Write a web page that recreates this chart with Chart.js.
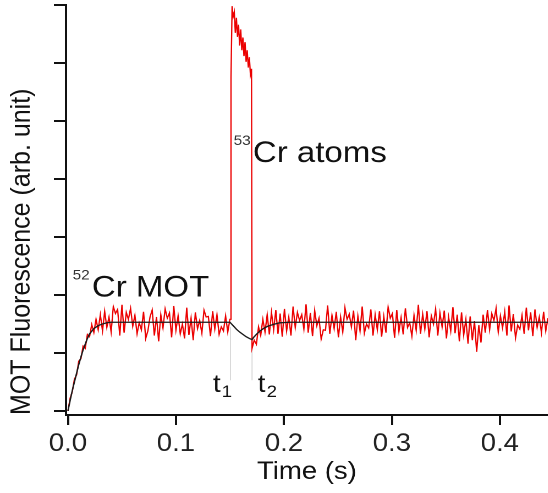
<!DOCTYPE html>
<html>
<head>
<meta charset="utf-8">
<script src="https://cdn.jsdelivr.net/npm/chart.js@4"></script>
<style>
  html, body { margin: 0; padding: 0; background: #fff; overflow: hidden; }
  /* the original figure's lettering is a little wide, so the canvas is stretched 1.1x sideways */
  #wrap { width: 498px; height: 493px; transform: scaleX(1.1); transform-origin: 0 0; }
</style>
</head>
<body>
<div id="wrap"><canvas id="chart" width="498" height="493"></canvas></div>
<script>
// MOT fluorescence trace: 52Cr MOT loading, then 53Cr atoms between t1 and t2

const FONT = "'Liberation Sans', Arial, sans-serif";

// axis ticks
const xTicks = [0.0, 0.1, 0.2, 0.3, 0.4];
const yTicks = [0, 1, 2, 3, 4, 5, 6, 7];

// red trace, part 1: loading + plateau, sampled every 2 ms from t = 0
const loadStart = 0.0;
const loadStep = 0.002;
const loadY = [
  0.00, 0.22, 0.33, 0.55, 0.62, 0.86, 0.90, 1.12, 1.08, 1.32,
  1.28, 1.49, 1.35, 1.58, 1.40, 1.66, 1.38, 1.72, 1.44, 1.62,
  1.36, 1.80, 1.68, 1.75, 1.30, 1.83, 1.35, 1.70, 1.58, 1.77,
  1.46, 1.65, 1.33, 1.52, 1.40, 1.71, 1.25, 1.38, 1.62, 1.74,
  1.30, 1.62, 1.20, 1.66, 1.43, 1.76, 1.60, 1.69, 1.27, 1.81,
  1.39, 1.64, 1.33, 1.50, 1.25, 1.78, 1.31, 1.60, 1.22, 1.70,
  1.42, 1.56, 1.34, 1.74, 1.62, 1.63, 1.29, 1.72, 1.41, 1.66,
  1.32, 1.45, 1.38, 1.64, 1.36, 1.58
];

// red trace, part 2: 53Cr atoms present (t1 .. t2), sampled every 1 ms
const atomStart = 0.151;
const atomStep = 0.001;
const atomY = [
  5.75, 6.98, 6.80, 6.88, 6.52, 6.78, 6.45, 6.66, 6.30, 6.58,
  6.22, 6.44, 6.12, 6.36, 6.02, 6.22, 5.92, 6.10, 5.80, 5.90
];

// red trace, part 3: after t2, sampled every 2 ms
const afterStart = 0.1705;
const afterStep = 0.002;
const afterY = [
  1.08, 1.22, 1.15, 1.45, 1.30, 1.58, 1.36, 1.66, 1.32, 1.70,
  1.40, 1.74, 1.33, 1.68, 1.28, 1.76, 1.38, 1.62, 1.30, 1.80,
  1.44, 1.70, 1.56, 1.66, 1.41, 1.84, 1.35, 1.69, 1.29, 1.73,
  1.47, 1.60, 1.24, 1.40, 1.39, 1.82, 1.33, 1.65, 1.42, 1.71,
  1.27, 1.62, 1.36, 1.78, 1.58, 1.67, 1.45, 1.73, 1.22, 1.64,
  1.38, 1.80, 1.34, 1.50, 1.43, 1.75, 1.30, 1.66, 1.40, 1.72,
  1.28, 1.63, 1.35, 1.79, 1.60, 1.68, 1.26, 1.74, 1.37, 1.61,
  1.32, 1.77, 1.44, 1.52, 1.29, 1.65, 1.39, 1.83, 1.33, 1.67,
  1.41, 1.72, 1.27, 1.64, 1.50, 1.76, 1.30, 1.69, 1.45, 1.73,
  1.25, 1.62, 1.38, 1.79, 1.34, 1.66, 1.20, 1.70, 1.31, 1.58,
  1.16, 1.63, 1.22, 1.55, 1.02, 1.48, 1.18, 1.66, 1.35, 1.74,
  1.40, 1.68, 1.56, 1.77, 1.36, 1.64, 1.43, 1.71, 1.30, 1.82,
  1.37, 1.67, 1.26, 1.48, 1.41, 1.65, 1.33, 1.78, 1.39, 1.70,
  1.29, 1.75, 1.44, 1.62, 1.35, 1.71, 1.38, 1.60
];

// black fit curve
const fitT = [0.000, 0.002, 0.004, 0.006, 0.008, 0.010, 0.012, 0.014, 0.016, 0.018,
              0.020, 0.024, 0.028, 0.032, 0.036, 0.040, 0.150,
              0.153, 0.156, 0.159, 0.162, 0.165, 0.168, 0.1705,
              0.172, 0.175, 0.178, 0.181, 0.185, 0.190, 0.196, 0.205, 0.445];
const fitY = [0.00, 0.18, 0.35, 0.50, 0.65, 0.80, 0.93, 1.05, 1.15, 1.25,
              1.33, 1.42, 1.47, 1.50, 1.52, 1.53, 1.53,
              1.47, 1.41, 1.36, 1.32, 1.28, 1.25, 1.23,
              1.27, 1.33, 1.38, 1.42, 1.46, 1.49, 1.52, 1.53, 1.53];

// faint markers under t1 and t2
const markerT = [0.1505, 0.1705];
const markerTop = [1.45, 1.20];
const markerBottom = [0.53, 0.53];

// text labels, anchored at left/baseline of the main text (data units)
const labels = [
  { sup: "52", main: "Cr MOT", x: 0.0222, y: 1.97 },
  { sup: "53", main: "Cr atoms", x: 0.1713, y: 4.29 }
];
const timeMarks = [
  { main: "t", sub: "1", x: 0.1343, y: 0.33 },
  { main: "t", sub: "2", x: 0.1759, y: 0.33 }
];

function buildSeries(start, step, ys) {
  return ys.map((v, i) => ({ x: start + i * step, y: v }));
}

const redTrace = []
  .concat(buildSeries(loadStart, loadStep, loadY))
  .concat(buildSeries(atomStart, atomStep, atomY))
  .concat(buildSeries(afterStart, afterStep, afterY));

const fitLine = fitT.map((t, i) => ({ x: t, y: fitY[i] }));

const markerSets = markerT.map((t, i) => ({
  data: [{ x: t, y: markerTop[i] }, { x: t, y: markerBottom[i] }],
  borderColor: "#d9d9d9",
  borderWidth: 1,
  order: 3
}));

// draws the annotation texts with super/subscripts
const textLabels = {
  id: "textLabels",
  afterDatasetsDraw(chart) {
    const ctx = chart.ctx;
    const xs = chart.scales.x;
    const ys = chart.scales.y;
    ctx.save();
    ctx.textBaseline = "alphabetic";
    ctx.textAlign = "left";

    labels.forEach(l => {
      const px = xs.getPixelForValue(l.x);
      const py = ys.getPixelForValue(l.y);
      ctx.font = "30px " + FONT;
      ctx.fillStyle = "#111";
      ctx.fillText(l.main, px, py);
      ctx.font = "14px " + FONT;
      ctx.fillStyle = "#333";
      const w = ctx.measureText(l.sup).width;
      ctx.fillText(l.sup, px - w - 2, py - 17);
    });

    timeMarks.forEach(m => {
      const px = xs.getPixelForValue(m.x);
      const py = ys.getPixelForValue(m.y);
      ctx.font = "25px " + FONT;
      ctx.fillStyle = "#111";
      ctx.fillText(m.main, px, py);
      const w = ctx.measureText(m.main).width;
      ctx.font = "17px " + FONT;
      ctx.fillText(m.sub, px + w + 1, py + 5);
    });
    ctx.restore();
  }
};

new Chart(document.getElementById("chart"), {
  type: "line",
  data: {
    datasets: [
      {
        data: fitLine,
        borderColor: "#1a1a1a",
        borderWidth: 1.3,
        order: 0
      },
      {
        data: redTrace,
        borderColor: "rgb(235, 0, 0)",
        borderWidth: 1.2,
        clip: false,
        order: 1
      }
    ].concat(markerSets)
  },
  options: {
    responsive: false,
    animation: false,
    devicePixelRatio: 2,
    layout: { padding: { top: 5, right: 0, bottom: 0, left: 0 } },
    elements: { point: { radius: 0 }, line: { tension: 0 } },
    plugins: {
      legend: { display: false },
      tooltip: { enabled: false }
    },
    scales: {
      x: {
        type: "linear",
        min: -0.0018,
        max: 0.4444,
        afterBuildTicks: s => { s.ticks = xTicks.map(v => ({ value: v })); },
        afterFit: s => { s.height = 78; },
        grid: { drawOnChartArea: false, drawTicks: true, tickLength: 10, color: "#111", lineWidth: 2 },
        border: { color: "#111", width: 2 },
        ticks: {
          color: "#222",
          font: { family: FONT, size: 25 },
          padding: 4,
          maxRotation: 0,
          autoSkip: false,
          callback: v => Number(v).toFixed(1)
        },
        title: {
          display: true,
          text: "Time (s)",
          color: "#111",
          font: { family: FONT, size: 25 },
          padding: { top: 0, bottom: 6 }
        }
      },
      y: {
        type: "linear",
        min: -0.07,
        max: 7,
        afterBuildTicks: s => { s.ticks = yTicks.map(v => ({ value: v })); },
        afterFit: s => { s.width = 60; },
        grid: { drawOnChartArea: false, drawTicks: true, tickLength: 11, color: "#111", lineWidth: 2 },
        border: { color: "#111", width: 2 },
        ticks: { display: false },
        title: {
          display: true,
          text: "MOT Fluorescence (arb. unit)",
          align: "start",
          color: "#111",
          font: { family: FONT, size: 25 },
          padding: { top: 5, bottom: 0 }
        }
      }
    }
  },
  plugins: [textLabels]
});
</script>
</body>
</html>
